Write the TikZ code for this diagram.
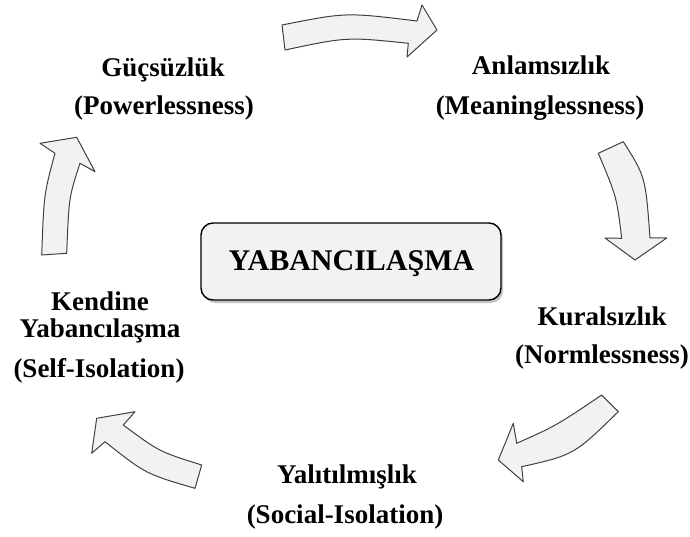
\documentclass[tikz,border=0pt]{standalone}
\usepackage{fontspec}
\setmainfont{Liberation Serif}
\usetikzlibrary{shadows}
\definecolor{boxfill}{HTML}{F2F2F2}
\definecolor{arrowline}{HTML}{404040}
\tikzset{
  blockarrow/.style={draw=arrowline, line width=1pt, fill=boxfill, line join=round},
  lbl/.style={anchor=base, inner sep=0pt, font=\fontsize{27}{32}\selectfont\bfseries},
  corebox/.style={draw=black, line width=1.4pt, fill=boxfill, rounded corners=12pt,
    minimum width=300pt, minimum height=77pt, inner sep=0pt,
    drop shadow={shadow xshift=2pt, shadow yshift=-3pt, opacity=0.45}},
  coretxt/.style={anchor=base, inner sep=0pt, font=\fontsize{30}{36}\selectfont\bfseries}
}
\begin{document}
\begin{tikzpicture}[x=1pt, y=-1pt]
\useasboundingbox (0,0) rectangle (690,537);

% central box
\node[corebox] (core) at (351,261.5) {};
\node[coretxt] (coretext) at (351.5,270) {YABANCILAŞMA};

% labels
\node[lbl] (g1) at (163,77) {Güçsüzlük};
\node[lbl] (g2) at (164,115) {(Powerlessness)};
\node[lbl] (a1) at (541,75) {Anlamsızlık};
\node[lbl] (a2) at (540,115) {(Meaninglessness)};
\node[lbl] (k1) at (602,325) {Kuralsızlık};
\node[lbl] (k2) at (602,363) {(Normlessness)};
\node[lbl] (y1) at (347,483) {Yalıtılmışlık};
\node[lbl] (y2) at (345,523) {(Social-Isolation)};
\node[lbl] (s1) at (100,310) {Kendine};
\node[lbl] (s2) at (100,337) {Yabancılaşma};
\node[lbl] (s3) at (99,377) {(Self-Isolation)};

% arrow 1 (top, pointing right)
\draw[blockarrow] (282,25) .. controls (346,12.3) .. (417,21) -- (422,5) -- (437,30)
  -- (407,57) -- (408.3,43.3) .. controls (346.7,36.9) .. (285,50) -- cycle;
% arrow 2 (right, pointing down)
\draw[blockarrow] (598.3,153.3) -- (623.3,141.7) .. controls (645.5,176.7) .. (650,238)
  -- (666.7,238) -- (635,260) -- (605,238) -- (621.7,238.3)
  .. controls (616.7,197) .. (598.3,153.3) -- cycle;
% arrow 3 (bottom right, pointing left)
\draw[blockarrow] (601.7,395) .. controls (556.3,425.6) .. (516.7,443.3) -- (513.3,423.3)
  -- (498.3,460) -- (523.3,481.7) -- (521.7,466.7)
  .. controls (574,454.9) .. (618.3,411.7) -- cycle;
% arrow 4 (bottom left, pointing up-left)
\draw[blockarrow] (96.7,418.3) -- (135,411.7) -- (123.3,425)
  .. controls (159.2,451.7) .. (201.7,465) -- (195,488.3)
  .. controls (145.6,473.9) .. (105,441.7) -- (91.7,453.3) -- cycle;
% arrow 5 (left, pointing up)
\draw[blockarrow] (41.7,255) .. controls (43.9,194.2) .. (55,153.3) -- (40,143.3)
  -- (76.7,137.3) -- (95,171.7) -- (80,163.3)
  .. controls (68.9,197.2) .. (66.7,253.3) -- cycle;
\end{tikzpicture}
\end{document}
